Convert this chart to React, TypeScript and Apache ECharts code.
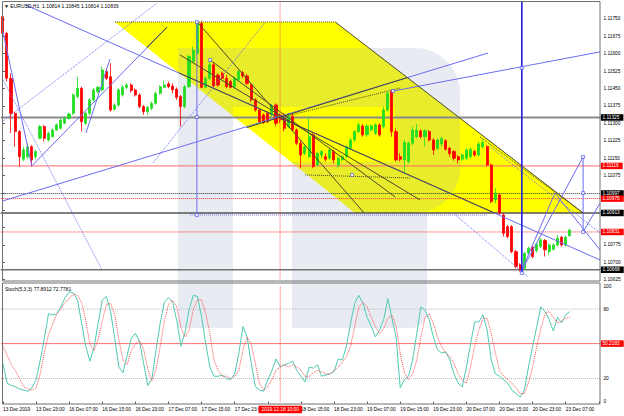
import React, { useEffect, useRef } from "react";
import * as echarts from "echarts";

const symbolTitle = "EURUSD,H1";
const lastQuote = ["1.10814", "1.10845", "1.10814", "1.10839"];
const stochTitle = "Stoch(5,3,3) 77.8912 72.7781";
const cursorTime = "2019.12.18 10:00";
const cursorBar = 67;

const tickLabels = [
  "13 Dec 2019", "13 Dec 23:00", "16 Dec 07:00", "16 Dec 15:00", "16 Dec 23:00", "17 Dec 07:00",
  "17 Dec 15:00", "17 Dec 23:00", "", "18 Dec 15:00", "18 Dec 23:00", "19 Dec 07:00",
  "19 Dec 15:00", "19 Dec 23:00", "20 Dec 07:00", "20 Dec 15:00", "20 Dec 23:00", "23 Dec 07:00",
];

const opens = [
  1.11760, 1.11688, 1.11494, 1.11343, 1.11264, 1.11145, 1.11156, 1.11199, 1.11156, 1.11235,
  1.11286, 1.11228, 1.11242, 1.11271, 1.11278, 1.11300, 1.11321, 1.11343, 1.11415, 1.11451,
  1.11300, 1.11343, 1.11401, 1.11437, 1.11444, 1.11523, 1.11501, 1.11360, 1.11379, 1.11422,
  1.11455, 1.11465, 1.11444, 1.11422, 1.11372, 1.11350, 1.11365, 1.11386, 1.11429, 1.11455,
  1.11470, 1.11461, 1.11447, 1.11415, 1.11372, 1.11458, 1.11566, 1.11602, 1.11731, 1.11455,
  1.11494, 1.11552, 1.11508, 1.11516, 1.11494, 1.11480, 1.11458, 1.11487, 1.11519, 1.11504,
  1.11465, 1.11401, 1.11357, 1.11336, 1.11343, 1.11336, 1.11379, 1.11336, 1.11321, 1.11286,
  1.11329, 1.11271, 1.11214, 1.11170, 1.11156, 1.11250, 1.11120, 1.11163, 1.11156, 1.11149,
  1.11178, 1.11120, 1.11142, 1.11156, 1.11192, 1.11228, 1.11264, 1.11288, 1.11250, 1.11271,
  1.11257, 1.11293, 1.11286, 1.11357, 1.11437, 1.11264, 1.11156, 1.11142, 1.11135, 1.11214,
  1.11242, 1.11267, 1.11242, 1.11264, 1.11228, 1.11192, 1.11211, 1.11225, 1.11192, 1.11178,
  1.11156, 1.11145, 1.11149, 1.11156, 1.11178, 1.11163, 1.11199, 1.11199, 1.11120, 1.10969,
  1.10991, 1.10904, 1.10854, 1.10854, 1.10746, 1.10689, 1.10674, 1.10739, 1.10765, 1.10751,
  1.10768, 1.10794, 1.10746, 1.10756, 1.10775, 1.10808, 1.10775, 1.10814,
];
const highs = [
  1.11767, 1.11695, 1.11516, 1.11350, 1.11271, 1.11199, 1.11214, 1.11206, 1.11185, 1.11293,
  1.11293, 1.11264, 1.11278, 1.11300, 1.11321, 1.11329, 1.11346, 1.11429, 1.11501, 1.11458,
  1.11350, 1.11408, 1.11451, 1.11461, 1.11544, 1.11537, 1.11559, 1.11386, 1.11451, 1.11465,
  1.11473, 1.11473, 1.11451, 1.11429, 1.11379, 1.11375, 1.11393, 1.11437, 1.11465, 1.11484,
  1.11480, 1.11473, 1.11455, 1.11422, 1.11465, 1.11595, 1.11631, 1.11739, 1.11743, 1.11501,
  1.11570, 1.11559, 1.11516, 1.11523, 1.11508, 1.11487, 1.11501, 1.11530, 1.11527, 1.11513,
  1.11472, 1.11408, 1.11365, 1.11343, 1.11350, 1.11383, 1.11386, 1.11343, 1.11343, 1.11343,
  1.11343, 1.11278, 1.11228, 1.11206, 1.11329, 1.11257, 1.11178, 1.11185, 1.11170, 1.11192,
  1.11185, 1.11156, 1.11163, 1.11206, 1.11235, 1.11271, 1.11303, 1.11297, 1.11297, 1.11297,
  1.11300, 1.11300, 1.11372, 1.11437, 1.11444, 1.11278, 1.11170, 1.11228, 1.11221, 1.11286,
  1.11297, 1.11274, 1.11274, 1.11271, 1.11235, 1.11235, 1.11242, 1.11231, 1.11199, 1.11185,
  1.11163, 1.11170, 1.11192, 1.11196, 1.11185, 1.11221, 1.11228, 1.11206, 1.11127, 1.11020,
  1.10998, 1.10912, 1.10861, 1.10861, 1.10754, 1.10696, 1.10746, 1.10768, 1.10771, 1.10785,
  1.10804, 1.10800, 1.10782, 1.10782, 1.10818, 1.10814, 1.10814, 1.10845,
];
const lows = [
  1.11674, 1.11480, 1.11257, 1.11199, 1.11113, 1.11135, 1.11145, 1.11113, 1.11145, 1.11231,
  1.11221, 1.11221, 1.11240, 1.11268, 1.11274, 1.11297, 1.11317, 1.11336, 1.11408, 1.11264,
  1.11293, 1.11336, 1.11393, 1.11429, 1.11437, 1.11487, 1.11350, 1.11355, 1.11372, 1.11415,
  1.11447, 1.11432, 1.11415, 1.11365, 1.11336, 1.11336, 1.11357, 1.11379, 1.11422, 1.11451,
  1.11451, 1.11429, 1.11401, 1.11286, 1.11365, 1.11451, 1.11559, 1.11595, 1.11451, 1.11451,
  1.11487, 1.11455, 1.11458, 1.11487, 1.11451, 1.11451, 1.11451, 1.11480, 1.11494, 1.11465,
  1.11393, 1.11350, 1.11300, 1.11297, 1.11300, 1.11329, 1.11286, 1.11300, 1.11264, 1.11278,
  1.11264, 1.11206, 1.11106, 1.11163, 1.11149, 1.11106, 1.11113, 1.11149, 1.11135, 1.11142,
  1.11127, 1.11106, 1.11135, 1.11149, 1.11185, 1.11221, 1.11257, 1.11242, 1.11242, 1.11264,
  1.11250, 1.11242, 1.11278, 1.11350, 1.11242, 1.11135, 1.11135, 1.11084, 1.11127, 1.11206,
  1.11235, 1.11235, 1.11199, 1.11221, 1.11163, 1.11185, 1.11199, 1.11182, 1.11156, 1.11139,
  1.11127, 1.11139, 1.11142, 1.11149, 1.11156, 1.11156, 1.11192, 1.11113, 1.10955, 1.10955,
  1.10905, 1.10811, 1.10804, 1.10739, 1.10674, 1.10660, 1.10667, 1.10732, 1.10718, 1.10742,
  1.10761, 1.10725, 1.10732, 1.10751, 1.10768, 1.10768, 1.10768, 1.10814,
];
const closes = [
  1.11688, 1.11494, 1.11343, 1.11264, 1.11156, 1.11185, 1.11199, 1.11142, 1.11178, 1.11286,
  1.11235, 1.11257, 1.11271, 1.11293, 1.11314, 1.11321, 1.11340, 1.11422, 1.11451, 1.11307,
  1.11343, 1.11401, 1.11444, 1.11455, 1.11530, 1.11494, 1.11357, 1.11379, 1.11444, 1.11455,
  1.11465, 1.11441, 1.11422, 1.11372, 1.11350, 1.11369, 1.11386, 1.11429, 1.11458, 1.11465,
  1.11458, 1.11444, 1.11412, 1.11372, 1.11458, 1.11588, 1.11616, 1.11731, 1.11455, 1.11494,
  1.11552, 1.11461, 1.11465, 1.11494, 1.11458, 1.11455, 1.11494, 1.11523, 1.11504, 1.11472,
  1.11401, 1.11357, 1.11307, 1.11303, 1.11307, 1.11375, 1.11300, 1.11314, 1.11278, 1.11329,
  1.11271, 1.11214, 1.11163, 1.11199, 1.11242, 1.11113, 1.11170, 1.11178, 1.11145, 1.11185,
  1.11142, 1.11149, 1.11156, 1.11199, 1.11228, 1.11264, 1.11293, 1.11250, 1.11288, 1.11288,
  1.11293, 1.11250, 1.11357, 1.11429, 1.11264, 1.11142, 1.11145, 1.11217, 1.11214, 1.11271,
  1.11271, 1.11242, 1.11268, 1.11228, 1.11185, 1.11228, 1.11235, 1.11188, 1.11170, 1.11149,
  1.11142, 1.11163, 1.11185, 1.11188, 1.11163, 1.11211, 1.11217, 1.11120, 1.10962, 1.10998,
  1.10912, 1.10825, 1.10811, 1.10746, 1.10682, 1.10670, 1.10739, 1.10761, 1.10725, 1.10779,
  1.10797, 1.10754, 1.10775, 1.10775, 1.10804, 1.10775, 1.10808, 1.10839,
];

const stochK = [
  33, 16, 14, 13, 11, 10, 9, 12, 19, 36, 55, 76, 75, 76, 82, 90, 95, 94, 88, 68,
  48, 35, 47, 68, 88, 91, 78, 55, 30, 25, 40, 55, 59, 52, 33, 14, 20, 45, 68, 86,
  90, 86, 70, 48, 60, 80, 92, 91, 73, 50, 30, 22, 22, 23, 20, 19, 24, 42, 65, 56,
  33, 13, 10, 9, 19, 27, 37, 30, 32, 33, 35, 27, 22, 17, 30, 29, 32, 22, 23, 24,
  26, 37, 36, 48, 68, 85, 92, 85, 73, 65, 56, 62, 71, 89, 72, 56, 12, 19, 22, 36,
  59, 82, 79, 71, 56, 45, 42, 43, 36, 24, 16, 13, 30, 50, 69, 69, 75, 62, 36, 24,
  22, 19, 16, 10, 7, 4, 10, 30, 48, 65, 82, 78, 71, 61, 73, 68, 75, 77.89,
];
const stochD = [
  48, 40, 32, 27, 20, 13, 11, 10, 12, 24, 43, 58, 67, 76, 80, 86, 89, 93, 92, 86,
  70, 50, 44, 54, 70, 84, 85, 75, 54, 36, 32, 44, 50, 53, 45, 28, 18, 28, 48, 70,
  84, 88, 82, 64, 56, 62, 80, 88, 88, 76, 59, 36, 27, 22, 22, 20, 22, 27, 45, 56,
  50, 33, 16, 10, 13, 19, 27, 30, 32, 30, 32, 30, 27, 22, 22, 25, 27, 26, 24, 24,
  27, 30, 34, 39, 48, 65, 82, 86, 82, 73, 65, 59, 63, 72, 75, 65, 42, 25, 19, 24,
  36, 56, 73, 76, 68, 56, 48, 42, 39, 33, 24, 19, 16, 30, 48, 62, 72, 72, 59, 42,
  27, 22, 19, 16, 12, 7, 7, 16, 30, 48, 63, 76, 78, 73, 68, 70, 72, 72.78,
];

// horizontal levels (price) and stochastic levels
const levelPrices = [1.11325, 1.11116, 1.10997, 1.10975, 1.10913, 1.10831, 1.10668];
const stochLevels = [80, 20];
const stochSignal = 50.2183;

// drawing objects, endpoints as [bar index, price]
const yellowChannel = [[27.1, 1.11737], [80.3, 1.11737], [140.2, 1.10913], [85.1, 1.10913]];
const blueLines = [
  [[5.6, 1.1181], [144.3, 1.1071]],
  [[0.06, 1.10965], [117.2, 1.11603]],
  [[94.3, 1.11439], [144.3, 1.11608]],
  [[0.06, 1.11694], [7.0, 1.11116]],
  [[7.0, 1.11116], [39.7, 1.11715]],
  [[20.1, 1.11258], [25.9, 1.11577]],
  [[125.2, 1.10658], [133.4, 1.10999]],
  [[133.4, 1.10999], [144.3, 1.10753]],
  [[125.2, 1.10658], [140.2, 1.11155]],
  [[140.2, 1.10831], [144.3, 1.10956]],
  [[140.2, 1.11155], [140.2, 1.10831]],
  [[46.9, 1.11737], [46.9, 1.10904]],
];
const blueDotted = [
  [[0.06, 1.1131], [37.3, 1.11819]],
  [[36.3, 1.11129], [63.4, 1.11737]],
  [[0.06, 1.11487], [24.0, 1.10667]],
  [[117.7, 1.11198], [144.3, 1.10827]],
  [[108.8, 1.10913], [126.9, 1.10637]],
  [[45.2, 1.10904], [117.0, 1.10904]],
];
const darkLines = [
  [[42.6, 1.11517], [118.8, 1.10913]],
  [[58.9, 1.11281], [97.7, 1.11497]],
  [[34.8, 1.11627], [39.7, 1.11715]],
  [[47.2, 1.11733], [87.3, 1.10913]],
  [[50.1, 1.11573], [94.8, 1.10982]],
  [[42.8, 1.11595], [100.8, 1.10969]],
  [[80.3, 1.11737], [140.2, 1.10913]],
];
const darkDotted = [
  [[67.2, 1.11325], [96.0, 1.11452]],
  [[115.3, 1.11241], [140.2, 1.10913]],
  [[73.0, 1.11077], [98.4, 1.11064]],
  [[27.1, 1.11737], [80.3, 1.11737]],
];
const bigVertical = [[125.4, 1.11825], [125.4, 1.10654]];
const markerPoints = [
  [46.9, 1.11737], [46.9, 1.11327], [46.9, 1.10904], [125.4, 1.11539], [125.4, 1.10654],
  [140.2, 1.11155], [140.2, 1.10999], [140.2, 1.10831], [94.3, 1.11439], [50.1, 1.11573], [84.4, 1.11077],
];

const N = 145;
const FONT = "Liberation Sans, Arial, sans-serif";
const FS = 4.8;

export default function App() {
  const ref = useRef<HTMLDivElement>(null);
  useEffect(() => {
    const chart = echarts.init(ref.current!, undefined, { renderer: "svg" });
    const cats = Array.from({ length: N }, (_, k) => String(k));
    const labelFor = (k: number) => (k % 8 === 0 && tickLabels[k / 8] ? tickLabels[k / 8] : "");
    const candleData = opens.map((o, i) => [o, closes[i], lows[i], highs[i]]);
    const coveredByBox = (v: number) => levelPrices.some((p) => Math.abs(p - v) < 0.0002);

    const levelStyle = [
      { color: "#8a8a8a", type: "solid", width: 2, bg: "#000" },
      { color: "#ff6a6a", type: "solid", width: 1, bg: "#ff0000" },
      { color: "#333", type: "dotted", width: 1, bg: "#000" },
      { color: "#ff3030", type: "dotted", width: 1, bg: "#ff0000" },
      { color: "#555", type: "solid", width: 1.5, bg: "#000" },
      { color: "#ff3030", type: "dotted", width: 1, bg: "#ff0000" },
      { color: "#707070", type: "solid", width: 1.5, bg: "#000" },
    ];

    const seg = (pts: number[][], color: string, type: string, width: number, z = 4, xi = 2, yi = 0) => ({
      type: "line", xAxisIndex: xi, yAxisIndex: yi, data: pts, symbol: "none", silent: true, z,
      lineStyle: { color, type, width }, clip: true,
    });

    const levelSeries = (p: number, st: any, xi: number, yi: number, text: string | null) => ({
      type: "line", xAxisIndex: xi, yAxisIndex: yi, data: [[-0.5, p], [144.5, p]], symbol: "none", silent: true, z: 3,
      lineStyle: { color: st.color, type: st.type, width: st.width }, clip: false,
      endLabel: text
        ? {
            show: true, formatter: () => text, distance: 0, backgroundColor: st.bg, color: "#fff",
            fontSize: FS, padding: [1, 4, 0.5, 1.5], fontFamily: FONT,
          }
        : { show: false },
    });

    const WM = "rgba(150,168,196,0.22)";
    const wm = (shape: any) => ({ type: "rect", shape, style: { fill: WM }, z: 2, silent: true });

    const option: any = {
      animation: false,
      textStyle: { fontFamily: FONT },
      grid: [
        { left: 0.7, top: 1.6, width: 600.2, height: 278.1 },
        { left: 0.7, top: 286, width: 600.2, height: 115.7 },
      ],
      xAxis: [
        { type: "category", gridIndex: 0, data: cats, boundaryGap: true, show: false },
        {
          type: "category", gridIndex: 1, data: cats, boundaryGap: true,
          axisLine: { show: false },
          axisTick: { show: true, alignWithLabel: true, length: 2, interval: (i: number) => i % 8 === 0, lineStyle: { color: "#444" } },
          axisLabel: {
            interval: (i: number) => i % 8 === 0, formatter: (v: string) => labelFor(Number(v)),
            fontSize: FS, color: "#000", align: "left", margin: 5, fontFamily: FONT,
          },
        },
        { type: "value", gridIndex: 0, min: -0.5, max: 144.5, show: false },
        { type: "value", gridIndex: 1, min: -0.5, max: 144.5, show: false },
      ],
      yAxis: [
        {
          type: "value", gridIndex: 0, position: "right", min: 1.10625, max: 1.11825, interval: 0.00075,
          axisLine: { show: false }, splitLine: { show: false },
          axisTick: { show: true, length: 2, lineStyle: { color: "#444" } },
          axisLabel: {
            formatter: (v: number) => (coveredByBox(v) ? "" : v.toFixed(5)),
            fontSize: FS, color: "#000", margin: 2.5, showMaxLabel: false, fontFamily: FONT,
          },
        },
        {
          type: "value", gridIndex: 1, position: "right", min: 0, max: 100, interval: 20,
          axisLine: { show: false }, splitLine: { show: false }, axisTick: { show: false },
          axisLabel: {
            formatter: (v: number) => (v === 40 || v === 60 ? "" : String(v)),
            fontSize: FS, color: "#000", margin: 2.5, fontFamily: FONT,
          },
        },
      ],
      series: [
        {
          type: "custom", xAxisIndex: 2, yAxisIndex: 0, z: 1, silent: true, clip: true,
          data: [yellowChannel[0]],
          renderItem: (_p: any, api: any) => ({
            type: "polygon",
            shape: { points: yellowChannel.map((pt) => api.coord(pt)) },
            style: { fill: "#ffff00", stroke: "none" },
          }),
        },
        ...levelPrices.map((p, i) => levelSeries(p, levelStyle[i], 2, 0, p.toFixed(5))),
        ...stochLevels.map((v) => levelSeries(v, { color: "#b8b8b8", type: "dotted", width: 1 }, 3, 1, null)),
        levelSeries(stochSignal, { color: "#ff7070", type: "solid", width: 1, bg: "#ff0000" }, 3, 1, stochSignal.toFixed(4)),
        {
          type: "candlestick", xAxisIndex: 0, yAxisIndex: 0, z: 3, data: candleData, barWidth: 2.6,
          itemStyle: { color: "#22dd22", color0: "#ff0000", borderColor: "#22dd22", borderColor0: "#ff0000", borderWidth: 0.8 },
        },
        ...blueLines.map((l) => seg(l, "#6b6bf2", "solid", 1)),
        ...darkLines.map((l) => seg(l, "#4a4a2a", "solid", 1)),
        ...blueDotted.map((l) => seg(l, "#7070f0", "dotted", 1)),
        ...darkDotted.map((l) => seg(l, "#4a4a2a", "dotted", 1)),
        seg(bigVertical, "#1f1fe0", "solid", 1.6),
        seg([[cursorBar, 1.11825], [cursorBar, 1.10625]], "#ff5050", "dotted", 1),
        seg([[cursorBar, 0], [cursorBar, 100]], "#ff5050", "dotted", 1, 4, 3, 1),
        {
          type: "scatter", xAxisIndex: 2, yAxisIndex: 0, data: markerPoints, symbol: "rect", symbolSize: 3,
          itemStyle: { color: "#ffffff", borderColor: "#4b4be8", borderWidth: 0.8 }, z: 5, silent: true,
        },
        {
          type: "line", xAxisIndex: 1, yAxisIndex: 1, data: stochK, symbol: "none", z: 4, silent: true,
          lineStyle: { color: "#4ecab2", width: 1 },
        },
        {
          type: "line", xAxisIndex: 1, yAxisIndex: 1, data: stochD, symbol: "none", z: 4, silent: true,
          lineStyle: { color: "#ff4d4d", width: 1, type: "dotted" },
        },
      ],
      graphic: [
        wm({ x: 178, y: 48, width: 55, height: 280 }),
        wm({ x: 233, y: 48, width: 162, height: 59 }),
        wm({ x: 395, y: 48, width: 65, height: 165, r: [0, 45, 45, 0] }),
        wm({ x: 292, y: 162, width: 103, height: 166 }),
        wm({ x: 395, y: 213, width: 32, height: 115, r: [0, 0, 16, 0] }),
        { type: "rect", shape: { x: 2.5, y: 1.5, width: 597.5, height: 279.5 }, style: { fill: "none", stroke: "#707070", lineWidth: 1 }, z: 6, silent: true },
        { type: "rect", shape: { x: 2.5, y: 283, width: 597.5, height: 121 }, style: { fill: "none", stroke: "#707070", lineWidth: 1 }, z: 6, silent: true },
        {
          type: "text", x: 4, y: 6, z: 7, silent: true,
          style: { text: "▼ " + symbolTitle + "  " + lastQuote.join(" "), font: `${FS + 0.2}px ${FONT}`, fill: "#000", verticalAlign: "middle" },
        },
        {
          type: "text", x: 5, y: 288.5, z: 7, silent: true,
          style: { text: stochTitle, font: `${FS + 0.2}px ${FONT}`, fill: "#000", verticalAlign: "middle" },
        },
      ],
    };
    chart.setOption(option);
    const px = chart.convertToPixel({ xAxisIndex: 3 }, cursorBar) as number;
    chart.setOption({
      graphic: [
        ...option.graphic,
        {
          type: "text", x: px, y: 409.5, z: 20, silent: true,
          style: {
            text: cursorTime, font: `${FS}px ${FONT}`, fill: "#fff", backgroundColor: "#ff0000",
            padding: [1.5, 3, 1, 3], align: "center", verticalAlign: "middle",
          },
        },
      ],
    });
    return () => chart.dispose();
  }, []);
  return <div ref={ref} style={{ width: 624, height: 416, position: "absolute", left: 0, top: 0 }} />;
}
